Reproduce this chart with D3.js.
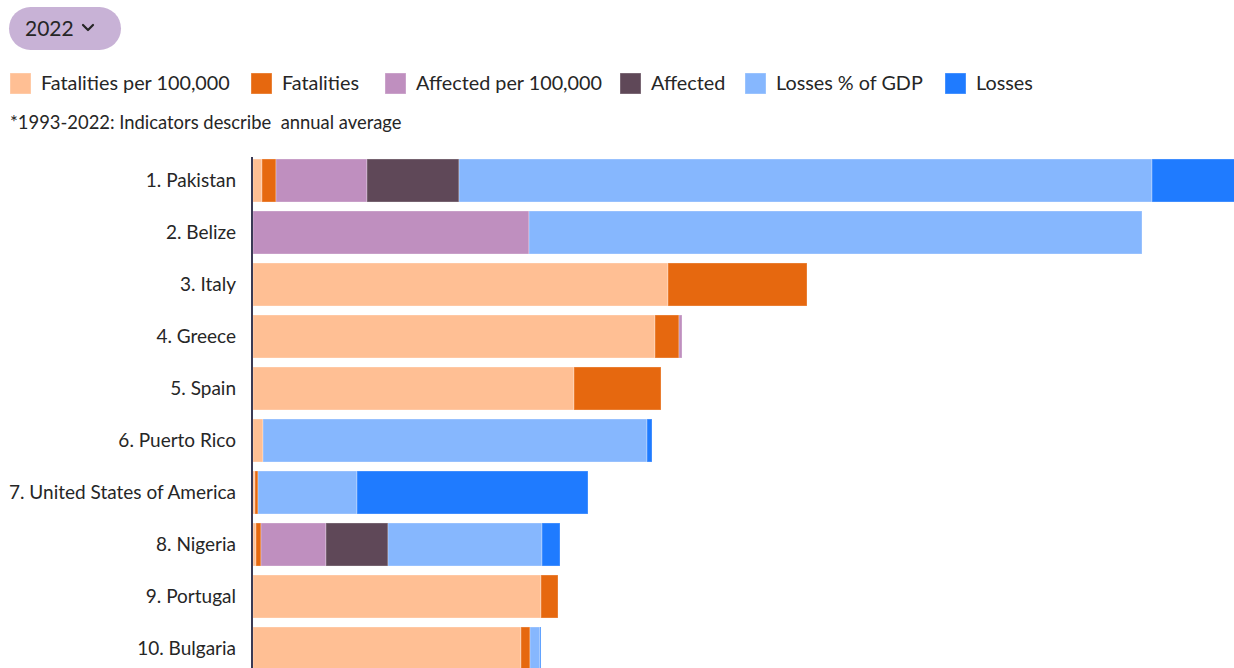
<!DOCTYPE html>
<html>
<head>
<meta charset="utf-8">
<script src="https://cdn.jsdelivr.net/npm/d3@7"></script>
<style>
  html, body { margin: 0; padding: 0; background: #fff; overflow: hidden; }
  svg { display: block; font-family: Lato, "Noto Sans", sans-serif; }
</style>
</head>
<body>
<svg id="chart" width="1234" height="668"></svg>
<script>
// ---- data (index points, stacked) ----
const countries = ["1. Pakistan", "2. Belize", "3. Italy", "4. Greece", "5. Spain",
  "6. Puerto Rico", "7. United States of America", "8. Nigeria", "9. Portugal", "10. Bulgaria"];
const seriesNames = ["Fatalities per 100,000", "Fatalities", "Affected per 100,000", "Affected", "Losses % of GDP", "Losses"];
const seriesColors = ["#ffbf94", "#e6680f", "#bf8fbf", "#5f4858", "#86b7fe", "#1f7bff"];
const fatalitiesPer100k = [9, 0, 415, 402, 321, 10, 2, 3, 288, 268];
const fatalities        = [14, 0, 139, 24, 87, 0, 3, 5, 17, 9];
const affectedPer100k   = [91, 276, 0, 3, 0, 0, 0, 65, 0, 0];
const affected          = [92, 0, 0, 0, 0, 0, 0, 62, 0, 0];
const lossesPctGDP      = [693, 613, 0, 0, 0, 384, 99, 154, 0, 10];
const losses            = [110, 0, 0, 0, 0, 5, 231, 18, 0, 1];
const yearLabel = "2022";
const footnote = "*1993-2022: Indicators describe  annual average";

const seriesValues = [fatalitiesPer100k, fatalities, affectedPer100k, affected, lossesPctGDP, losses];
const table = countries.map((c, i) => {
  const row = { country: c };
  seriesNames.forEach((s, k) => row[s] = seriesValues[k][i]);
  return row;
});

const svg = d3.select("#chart");
const textColor = "#262626";

// ---- year selector pill ----
const pill = svg.append("g");
pill.append("rect").attr("x", 9).attr("y", 7).attr("width", 112).attr("height", 43)
  .attr("rx", 21.5).attr("fill", "#c8b2d6");
pill.append("text").attr("x", 25).attr("y", 36).attr("font-size", 21)
  .attr("fill", textColor).text(yearLabel);
pill.append("path").attr("d", "M83,25 L88,30 L93,25").attr("fill", "none")
  .attr("stroke", textColor).attr("stroke-width", 2.2).attr("stroke-linecap", "round").attr("stroke-linejoin", "round");

// ---- legend ----
const legendX = [10, 251, 385, 620, 745, 945];
const legend = svg.append("g").selectAll("g").data(seriesNames).join("g")
  .attr("transform", (d, i) => `translate(${legendX[i]},73)`);
legend.append("rect").attr("width", 21).attr("height", 21)
  .attr("fill", (d, i) => seriesColors[i])
  .attr("stroke", "#fff").attr("stroke-opacity", 0.35);
legend.append("text").attr("x", 31).attr("y", 17).attr("font-size", 19.8)
  .attr("fill", textColor).text(d => d);

svg.append("text").attr("x", 10).attr("y", 129).attr("font-size", 18.4)
  .attr("fill", textColor).style("white-space", "pre").attr("xml:space", "preserve").text(footnote);

// ---- chart ----
const x0 = 253;
const x = d3.scaleLinear().domain([0, 1000]).range([x0, x0 + 1000]);
const y = d3.scaleBand().domain(countries).range([159 - 4.5, 159 - 4.5 + 52 * 10]).paddingInner(0.173).paddingOuter(0.0865);

const stack = d3.stack().keys(seriesNames)(table);
const color = d3.scaleOrdinal().domain(seriesNames).range(seriesColors);

svg.append("g").selectAll("g").data(stack).join("g")
  .attr("fill", d => color(d.key))
  .selectAll("rect").data(d => d.filter(p => p[1] - p[0] > 0)).join("rect")
  .attr("x", d => x(d[0]))
  .attr("width", d => x(d[1]) - x(d[0]))
  .attr("y", d => y(d.data.country))
  .attr("height", y.bandwidth())
  .attr("stroke", "#fff").attr("stroke-opacity", 0.3).attr("stroke-width", 1);

const yAxis = svg.append("g").attr("transform", `translate(${x0 - 1},0)`)
  .call(d3.axisLeft(y).tickSize(0).tickPadding(16));
yAxis.select(".domain").attr("stroke", "#3a3a55").attr("stroke-width", 2).attr("d", `M0,157V668`);
yAxis.selectAll("text").attr("font-size", 19).attr("dy", "0.36em").attr("fill", textColor).attr("font-family", "Lato, 'Noto Sans', sans-serif");
</script>
</body>
</html>
